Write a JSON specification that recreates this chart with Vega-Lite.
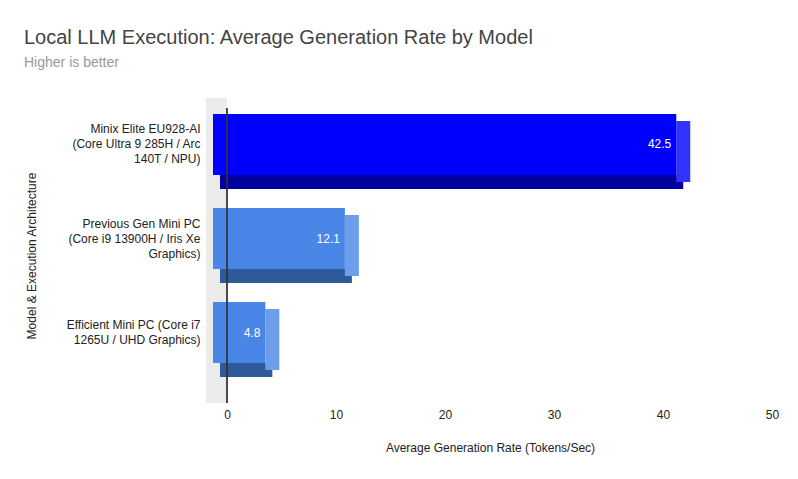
{
  "$schema": "https://vega.github.io/schema/vega-lite/v6.json",
  "width": 545,
  "height": 295,
  "autosize": {"type": "none"},
  "padding": {"left": 227, "top": 108, "right": 26, "bottom": 76},
  "background": "white",
  "config": {
    "font": "Liberation Sans",
    "view": {"stroke": null}
  },
  "title": {
    "text": "Local LLM Execution: Average Generation Rate by Model",
    "subtitle": "Higher is better",
    "anchor": "start",
    "frame": "group",
    "dx": -203,
    "offset": 18,
    "font": "Liberation Sans",
    "fontSize": 20,
    "fontWeight": "normal",
    "color": "#444444",
    "subtitleFont": "Liberation Sans",
    "subtitleFontSize": 14,
    "subtitleColor": "#999999",
    "subtitlePadding": 8
  },
  "data": {
    "values": [
      {"model": "Minix Elite EU928-AI\n(Core Ultra 9 285H / Arc\n140T / NPU)", "rate": 42.5},
      {"model": "Previous Gen Mini PC\n(Core i9 13900H / Iris Xe\nGraphics)", "rate": 12.1},
      {"model": "Efficient Mini PC (Core i7\n1265U / UHD Graphics)", "rate": 4.8}
    ]
  },
  "encoding": {
    "y": {
      "field": "model",
      "type": "nominal",
      "sort": null,
      "scale": {"paddingInner": 0, "paddingOuter": 0.069},
      "title": "Model & Execution Architecture",
      "axis": {
        "domain": false,
        "ticks": false,
        "labelExpr": "split(datum.label, '\\n')",
        "labelFontSize": 12,
        "labelLineHeight": 15,
        "labelColor": "#222222",
        "labelPadding": 27,
        "labelOffset": {"condition": {"test": "length(split(datum.label, '\\n')) > 2", "value": -32}, "value": -24.5},
        "labelLimit": 200,
        "titleFontSize": 12,
        "titleFontWeight": "normal",
        "titleColor": "#222222",
        "titlePadding": 28
      }
    }
  },
  "layer": [
    {
      "mark": {"type": "rule", "color": "#ebebeb", "strokeWidth": 21, "xOffset": -10.5, "yOffset": -10},
      "encoding": {"x": {"datum": 0, "type": "quantitative"}, "y": null}
    },
    {
      "mark": {"type": "bar", "height": 14, "xOffset": -7, "x2Offset": -7, "yOffset": 20.5, "y2Offset": 20.5},
      "encoding": {
        "x": {
          "field": "rate",
          "type": "quantitative",
          "scale": {"domain": [0, 50]},
          "title": "Average Generation Rate (Tokens/Sec)",
          "axis": {
            "values": [0, 10, 20, 30, 40, 50],
            "domain": false,
            "ticks": false,
            "labelFlush": false,
            "gridColor": "#cccccc",
            "labelFontSize": 12,
            "labelColor": "#222222",
            "labelPadding": 6,
            "titleFontSize": 12,
            "titleFontWeight": "normal",
            "titleColor": "#222222",
            "titlePadding": 22,
            "titleX": 263
          }
        },
        "color": {"condition": {"test": "datum.rate > 40", "value": "#0000a0"}, "value": "#2f5a9a"}
      }
    },
    {
      "mark": {"type": "tick", "thickness": 14, "size": 61, "xOffset": -7, "yOffset": -10},
      "encoding": {
        "x": {"field": "rate", "type": "quantitative"},
        "color": {"condition": {"test": "datum.rate > 40", "value": "#3333ff"}, "value": "#6d9eeb"},
        "opacity": {"value": 1}
      }
    },
    {
      "mark": {"type": "bar", "height": 61, "xOffset": -14, "x2Offset": -14, "yOffset": -17, "y2Offset": -17},
      "encoding": {
        "x": {"field": "rate", "type": "quantitative"},
        "color": {"condition": {"test": "datum.rate > 40", "value": "#0000ff"}, "value": "#4a86e8"}
      }
    },
    {
      "mark": {"type": "text", "align": "right", "baseline": "middle", "xOffset": -19, "yOffset": -17, "fontSize": 12, "color": "white"},
      "encoding": {
        "x": {"field": "rate", "type": "quantitative"},
        "text": {"field": "rate", "type": "quantitative", "format": ".1f"}
      }
    },
    {
      "mark": {"type": "rule", "color": "#333333", "strokeWidth": 1},
      "encoding": {"x": {"datum": 0, "type": "quantitative"}, "y": null}
    }
  ]
}
